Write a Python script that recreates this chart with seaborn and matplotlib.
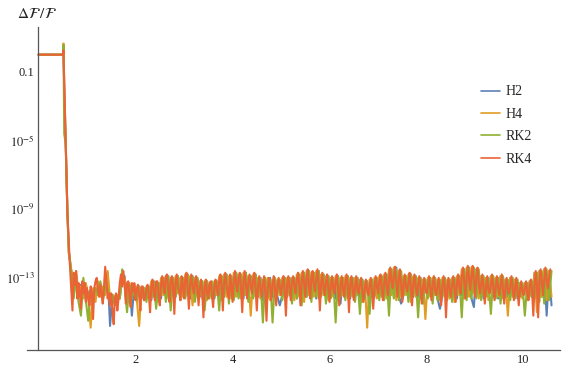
import numpy as np
import pandas as pd
import matplotlib
matplotlib.use("Agg")
import matplotlib.pyplot as plt
import seaborn as sns
from matplotlib.ticker import FixedLocator, FixedFormatter, NullFormatter

# ---------------- data (log10 of dF/F) ----------------
methods = ["H2", "H4", "RK2", "RK4"]
colors = ["#5E81B5", "#E19C24", "#8FB032", "#EB6235"]

t_head = [0.0, 0.505, 0.515, 0.53, 0.56, 0.595, 0.625]
head_H2 = [0.0, 0.0, 0.30, -2.0, -5.0, -9.0, -11.5]
head_H4 = [0.0, 0.0, 0.65, -1.8, -5.0, -9.0, -11.6]
head_RK2 = [0.0, 0.0, 0.55, -4.6, -5.2, -9.2, -11.4]
head_RK4 = [0.0, 0.0, 0.25, -1.5, -5.0, -9.1, -11.0]

# RK4 plateau: t = 0.65, 0.675, ..., 10.55
tail_RK4 = [
    -12.4, -13.6, -14.9, -12.7, -13.4, -12.6, -14.2, -13.3, -13.8, -14.8, -13.2, -13.9, -13.3, -14.4,
    -13.6, -14.2, -14.6, -13.5, -13.9, -15.4, -13.6, -13.2, -13.0, -13.7, -14.1, -13.4, -13.9, -14.5, -13.5, -12.35, -13.2, -14.2, -13.9, -14.6,
    -13.9, -15.0, -15.7, -14.1, -13.9, -14.9, -14.2, -13.3, -12.8, -13.5, -12.6, -13.4, -14.5, -13.3, -13.2, -14.0, -14.7, -13.3, -13.8, -13.3,
    -14.3, -13.6, -13.4, -14.1, -14.9, -13.5, -13.5, -14.3, -14.2, -13.6, -13.4, -14.0, -15.0, -13.5, -13.1, -13.8, -14.3, -13.2, -13.2, -14.0,
    -14.6, -13.4, -12.9, -13.5, -13.9, -12.9, -12.8, -13.7, -14.4, -13.2, -12.9, -13.6, -15.1, -13.3, -12.8, -13.5, -13.8, -14.3, -12.9, -13.4,
    -14.2, -13.1, -12.7, -13.6, -14.8, -13.4, -12.8, -13.5, -13.9, -13.3, -12.9, -13.7, -14.6, -13.6, -13.1, -13.8, -15.3, -13.6, -13.1, -13.9,
    -14.2, -13.4, -13.2, -14.0, -14.7, -13.5, -13.1, -13.7, -14.0, -13.2, -12.8, -13.5, -14.9, -13.3, -12.7, -13.4, -13.9, -14.2, -12.8, -13.5,
    -14.4, -13.2, -12.6, -13.4, -13.8, -13.0, -12.7, -13.6, -15.0, -13.3, -12.6, -13.4, -14.2, -13.3, -12.8, -13.5, -13.9, -13.1, -12.7, -13.6,
    -14.9, -13.5, -12.9, -13.6, -14.1, -13.4, -12.9, -13.8, -15.5, -13.6, -13.0, -13.5, -14.3, -13.4, -12.9, -13.7, -14.6, -13.5, -13.0, -13.6,
    -14.0, -13.3, -12.9, -13.8, -15.2, -13.4, -12.9, -13.6, -14.3, -13.2, -12.9, -13.5, -13.9, -13.1, -12.7, -13.4, -14.6, -13.2, -12.6, -13.3,
    -14.1, -13.1, -12.5, -13.5, -14.2, -13.0, -12.6, -13.4, -13.8, -13.1, -12.5, -13.3, -14.9, -13.4, -12.7, -13.5, -14.0, -13.3, -12.8, -13.6,
    -14.4, -13.4, -12.9, -13.6, -13.9, -13.2, -12.8, -13.7, -14.6, -13.5, -12.9, -13.6, -14.1, -13.3, -12.8, -13.5, -15.0, -13.4, -12.9, -13.6,
    -14.3, -13.5, -12.9, -13.7, -13.9, -13.4, -13.0, -13.8, -14.4, -13.6, -13.1, -13.7, -14.0, -13.5, -13.0, -13.8, -14.8, -13.6, -12.9, -13.5,
    -13.9, -13.2, -12.8, -13.6, -14.3, -13.3, -12.7, -13.4, -14.0, -13.1, -12.4, -13.2, -13.6, -12.9, -12.35, -13.3, -14.1, -13.1, -12.5, -13.4,
    -14.4, -13.4, -12.8, -13.5, -13.8, -13.3, -12.7, -13.6, -14.6, -13.4, -12.8, -13.5, -14.0, -13.4, -12.9, -13.6, -14.5, -13.6, -13.0, -13.7,
    -13.9, -13.5, -12.9, -13.6, -14.3, -13.4, -12.9, -13.7, -14.0, -13.5, -13.0, -13.8, -14.6, -13.5, -12.9, -13.6, -15.3, -13.6, -13.0, -13.7,
    -14.1, -13.4, -12.9, -13.6, -14.4, -13.3, -12.8, -13.5, -13.9, -13.0, -12.4, -13.2, -14.2, -13.0, -12.3, -13.1, -13.7, -12.9, -12.3, -13.2,
    -14.1, -13.0, -12.4, -13.3, -13.9, -13.4, -12.8, -13.6, -14.5, -13.5, -12.9, -13.7, -13.9, -13.4, -12.8, -13.6, -14.3, -13.5, -12.9, -13.6,
    -14.0, -13.4, -12.8, -13.7, -14.5, -13.6, -13.0, -13.7, -13.9, -13.5, -12.9, -13.6, -14.3, -13.6, -13.0, -13.8, -14.6, -13.7, -13.2, -13.8,
    -14.0, -13.6, -13.2, -13.9, -14.3, -13.5, -13.1, -13.8, -15.2, -13.4, -12.6, -13.5, -15.3, -13.2, -12.5, -13.3, -14.0, -13.1, -12.4, -13.2,
    -13.6, -13.0, -12.5,
]

# other methods: t = 0.675, 0.725, ..., 10.575
tail_RK2 = [
    -12.6, -14.2, -12.9, -14.4, -15.2, -13.0, -14.3,
    -15.5, -13.7, -14.3, -13.6, -14.0, -13.2, -14.4, -13.5, -13.6, -14.4, -14.0, -14.6, -14.1, -14.2, -12.5, -13.4, -15.0, -13.4, -14.2, -13.5,
    -14.3, -13.5, -14.1, -13.6, -14.4, -13.5, -14.2, -13.2, -14.8, -13.3, -14.0, -13.0, -14.4, -12.9, -14.9, -13.0, -14.1, -12.9, -14.3, -13.0,
    -14.2, -12.8, -14.0, -12.9, -14.4, -13.0, -14.0, -13.2, -14.9, -13.2, -14.2, -13.2, -14.1, -13.2, -14.9, -12.9, -14.1, -12.8, -14.5, -12.9,
    -14.3, -12.7, -14.2, -12.8, -14.0, -12.7, -14.4, -12.9, -14.2, -12.8, -14.0, -13.0, -15.6, -13.0, -14.2, -13.1, -15.6, -13.0, -14.0, -13.1,
    -14.3, -13.0, -14.1, -13.0, -14.5, -13.0, -14.2, -12.8, -14.6, -12.7, -14.1, -12.6, -14.4, -12.7, -14.1, -12.6, -14.1, -12.8, -14.5, -12.9,
    -14.2, -13.0, -15.6, -12.9, -14.1, -13.0, -14.3, -12.9, -14.1, -13.0, -14.4, -13.0, -15.1, -13.1, -14.2, -13.2, -15.1, -13.1, -14.0, -13.0,
    -14.3, -12.9, -14.3, -12.8, -15.2, -12.5, -14.2, -12.5, -14.3, -12.6, -14.0, -12.9, -14.4, -12.8, -14.0, -12.9, -15.3, -13.0, -14.5, -13.1,
    -14.2, -13.0, -14.5, -13.0, -14.3, -13.1, -14.1, -13.0, -14.3, -13.1, -14.4, -13.0, -14.0, -12.9, -15.3, -12.5, -14.3, -12.4, -14.2, -12.4,
    -14.2, -12.5, -14.3, -12.9, -14.1, -13.0, -15.1, -12.9, -14.2, -13.0, -14.5, -12.9, -14.1, -13.1, -14.3, -13.0, -14.2, -13.1, -14.1, -13.3,
    -15.2, -13.3, -14.1, -13.2, -14.2, -12.7, -14.4, -12.6, -14.5, -12.5, -14.3, -12.6,
]

tail_H4 = [
    -12.5, -14.1, -12.6, -13.9, -13.5, -14.2, -13.3,
    -14.1, -15.9, -13.6, -14.4, -13.2, -14.1, -13.5, -14.0, -12.6, -14.2, -14.0, -14.6, -14.0, -14.2, -12.9, -13.0, -14.4, -13.3, -14.1, -13.4,
    -14.2, -15.8, -13.6, -14.3, -13.5, -14.2, -13.2, -14.1, -13.3, -14.4, -13.0, -14.0, -12.9, -14.2, -13.0, -14.0, -12.9, -13.9, -13.0, -14.1,
    -12.8, -14.0, -12.9, -14.6, -13.0, -14.1, -13.2, -14.2, -13.2, -14.3, -13.3, -14.2, -13.2, -14.0, -12.9, -14.3, -12.8, -14.1, -12.9, -14.2,
    -12.7, -14.1, -12.8, -14.2, -12.7, -14.0, -12.9, -15.2, -12.8, -14.1, -13.0, -14.2, -13.1, -14.0, -13.0, -14.3, -13.1, -14.1, -13.1, -14.0,
    -13.0, -14.2, -13.0, -14.0, -13.0, -14.3, -12.8, -14.1, -12.7, -14.4, -12.6, -14.0, -12.7, -14.1, -12.6, -14.2, -12.8, -14.0, -12.9, -14.3,
    -13.0, -14.1, -12.9, -14.3, -13.0, -14.0, -12.9, -14.2, -13.0, -14.1, -13.0, -14.0, -13.1, -14.4, -13.2, -15.9, -13.1, -14.1, -13.0, -14.2,
    -12.9, -14.1, -12.8, -14.2, -12.5, -14.0, -12.4, -14.3, -12.6, -14.1, -12.9, -14.0, -12.8, -14.4, -12.9, -14.1, -13.0, -14.2, -13.1, -15.4,
    -13.0, -14.1, -13.0, -14.0, -13.1, -14.3, -13.0, -14.1, -13.1, -14.2, -13.0, -14.4, -12.9, -14.0, -12.5, -14.2, -12.4, -14.1, -12.4, -13.9,
    -12.5, -14.2, -12.9, -14.0, -13.0, -14.3, -12.9, -14.1, -13.0, -14.1, -12.9, -14.2, -13.1, -15.2, -13.0, -14.1, -13.1, -14.0, -13.3, -14.2,
    -13.3, -14.3, -13.2, -14.1, -12.7, -15.0, -12.6, -14.1, -12.5, -14.3, -12.6, -14.1,
]

tail_H2 = [
    -12.6, -14.0, -12.8, -14.1, -13.4, -14.0, -13.4,
    -14.0, -13.7, -14.2, -13.6, -14.0, -13.3, -14.1, -13.5, -12.7, -15.8, -14.0, -14.3, -14.0, -14.2, -13.0, -12.9, -14.2, -13.4, -15.2, -13.4,
    -14.1, -13.5, -14.2, -13.6, -14.1, -13.5, -14.3, -13.2, -14.1, -13.3, -14.2, -13.0, -14.0, -12.9, -14.3, -13.0, -14.1, -12.9, -14.0, -13.0,
    -14.1, -12.8, -14.2, -12.9, -14.0, -13.0, -14.1, -13.2, -14.3, -13.2, -14.0, -13.3, -14.2, -13.2, -14.1, -12.9, -14.1, -12.8, -14.0, -12.9,
    -14.2, -12.7, -14.1, -12.8, -14.2, -12.7, -14.0, -12.9, -14.1, -12.8, -14.1, -13.0, -14.3, -13.1, -14.0, -13.0, -14.1, -13.1, -14.1, -14.6,
    -14.0, -13.0, -14.1, -13.0, -14.1, -13.0, -14.2, -12.8, -14.0, -12.7, -14.1, -12.6, -14.1, -12.7, -14.2, -12.6, -14.0, -12.8, -14.1, -12.9,
    -14.1, -13.0, -14.2, -12.9, -14.5, -13.0, -14.0, -12.9, -14.2, -13.0, -14.1, -13.0, -14.1, -13.1, -14.0, -13.2, -14.2, -13.1, -14.1, -13.0,
    -14.1, -12.9, -14.0, -12.8, -14.2, -12.5, -14.1, -12.4, -14.0, -14.5, -14.0, -12.9, -14.2, -12.8, -14.1, -12.9, -14.1, -13.0, -14.0, -13.1,
    -14.1, -13.0, -14.1, -13.0, -14.2, -14.8, -14.0, -13.0, -14.1, -13.1, -14.1, -13.0, -14.2, -12.9, -14.0, -12.5, -14.1, -12.4, -14.2, -14.7,
    -12.5, -14.1, -12.9, -14.2, -13.0, -14.0, -12.9, -14.1, -13.0, -14.2, -12.9, -14.1, -13.1, -14.1, -13.0, -14.0, -13.1, -14.2, -13.3, -14.1,
    -13.3, -14.1, -13.2, -14.1, -12.7, -14.2, -12.6, -14.1, -12.5, -15.2, -12.6, -14.6,
]

heads = {"H2": head_H2, "H4": head_H4, "RK2": head_RK2, "RK4": head_RK4}
tails = {"H2": tail_H2, "H4": tail_H4, "RK2": tail_RK2, "RK4": tail_RK4}
tail_start = {"H2": 0.675, "H4": 0.675, "RK2": 0.675, "RK4": 0.65}
tail_step = {"H2": 0.05, "H4": 0.05, "RK2": 0.05, "RK4": 0.025}

frames = []
for m in methods:
    tt_tail = tail_start[m] + tail_step[m] * np.arange(len(tails[m]))
    tt = np.concatenate([t_head, tt_tail])
    lv = np.concatenate([heads[m], tails[m]])
    frames.append(pd.DataFrame({"t": tt, "val": 10.0 ** lv, "method": m}))
df = pd.concat(frames, ignore_index=True)

# ---------------- styling ----------------
sns.set_style("white")
plt.rcParams["font.family"] = ["Liberation Serif", "DejaVu Serif"]
plt.rcParams["mathtext.fontset"] = "stix"

axis_col = "#555555"
fig = plt.figure(figsize=(5.71, 3.68), dpi=100)
ax = fig.add_axes([27 / 571, 1 - 350 / 368, 533 / 571, (350 - 27.3) / 368])

sns.lineplot(data=df, x="t", y="val", hue="method", hue_order=methods,
             palette=colors, sort=False, estimator=None,
             lw=1.5, ax=ax)
ax.set_yscale("log")
ax.set_xlim(-0.237, 10.75)
ax.set_ylim(10 ** -17.2, 10 ** 1.594)
ax.set_xlabel("")
ax.set_ylabel("")

for s in ["top", "right"]:
    ax.spines[s].set_visible(False)
ax.spines["left"].set_position(("data", 0))
for s in ["left", "bottom"]:
    ax.spines[s].set_color(axis_col)
    ax.spines[s].set_linewidth(0.9)

ax.xaxis.set_major_locator(FixedLocator([2, 4, 6, 8, 10]))
ax.xaxis.set_minor_locator(FixedLocator([0.5, 1, 1.5, 2.5, 3, 3.5, 4.5, 5, 5.5, 6.5,
                                         7, 7.5, 8.5, 9, 9.5, 10.5]))
ax.xaxis.set_major_formatter(FixedFormatter(["2", "4", "6", "8", "10"]))
ax.xaxis.set_minor_formatter(NullFormatter())

ymaj = [1e-1, 1e-5, 1e-9, 1e-13]
ylab = ["0.1", r"$10^{-5}$", r"$10^{-9}$", r"$10^{-13}$"]
ax.yaxis.set_major_locator(FixedLocator(ymaj))
ax.yaxis.set_major_formatter(FixedFormatter(ylab))
ax.yaxis.set_minor_locator(FixedLocator([1e1, 1e-3, 1e-7, 1e-11, 1e-15, 1e-17]))
ax.yaxis.set_minor_formatter(NullFormatter())

ax.tick_params(which="major", direction="in", length=4, width=0.8,
               color=axis_col, labelsize=9, pad=3, labelcolor="#222222")
ax.tick_params(which="minor", direction="in", length=2.2, width=0.7,
               color=axis_col)

handles, labels = ax.get_legend_handles_labels()
leg = ax.legend(handles, labels, loc="upper left", frameon=False,
                bbox_to_anchor=(0.842, 0.768), bbox_transform=fig.transFigure,
                fontsize=10, handlelength=1.4, handletextpad=0.35,
                labelspacing=0.68, borderpad=0, borderaxespad=0)
for h in leg.get_lines():
    h.set_linewidth(1.2)

fig.text(36.7 / 571, 1 - 14 / 368, r"$\Delta\mathcal{F}\,/\mathcal{F}$",
         fontsize=11, ha="center", va="center", color="#222222")

fig.savefig("out.png", dpi=100)
